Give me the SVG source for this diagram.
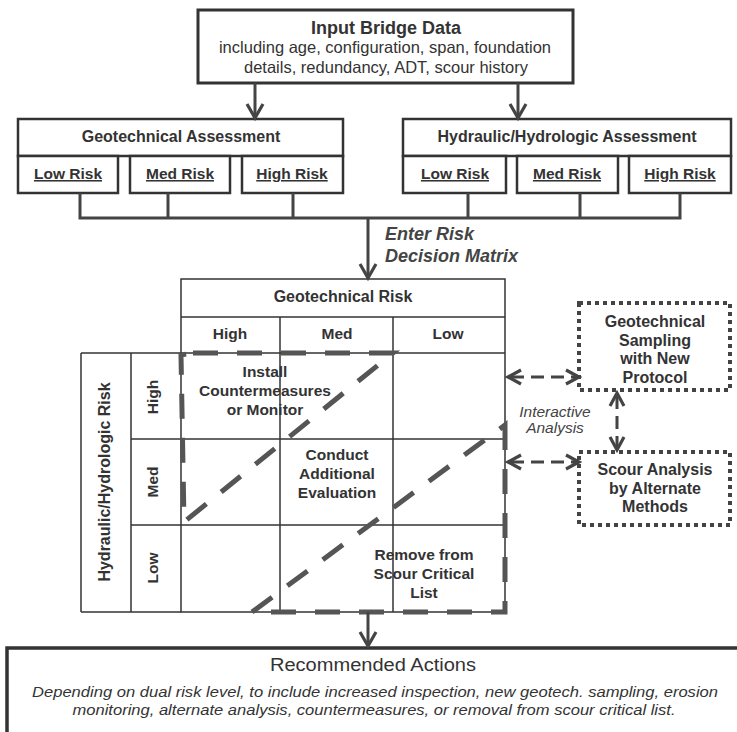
<svg xmlns="http://www.w3.org/2000/svg" width="737" height="732" viewBox="0 0 737 732">
<style>
.box{fill:#fff;stroke:#333;stroke-width:2.5}
.grid{fill:none;stroke:#333;stroke-width:1.5}
.t{font-family:"Liberation Sans",Arial,sans-serif;fill:#333;text-anchor:middle}
.b{font-weight:bold}
.u{text-decoration:underline}
.i{font-style:italic}
.conn{fill:none;stroke:#444;stroke-width:3}
.head{fill:none;stroke:#444;stroke-width:3.2;stroke-linejoin:miter}
.dash{fill:none;stroke:#555;stroke-width:5;stroke-dasharray:25 19}
.dot{fill:#fff;stroke:#444;stroke-width:4;stroke-dasharray:4 4}
.ia{fill:none;stroke:#444;stroke-width:3;stroke-dasharray:13 7}
</style>
<rect width="737" height="732" fill="#fff"/>

<g id="input-bridge-data">
<rect class="box" x="198" y="10" width="375" height="73" style="stroke-width:3"/>
<text class="t b" x="386" y="34" font-size="18">Input Bridge Data</text>
<text class="t" x="385" y="53" font-size="16.5">including age, configuration, span, foundation</text>
<text class="t" x="386" y="73" font-size="16.5">details, redundancy, ADT, scour history</text>
</g>

<g id="geotechnical-assessment">
<rect class="box" x="18" y="119" width="325" height="37"/>
<text class="t b" x="181" y="142" font-size="16">Geotechnical Assessment</text>
<rect class="box" x="18" y="156" width="100" height="37"/>
<text class="t b u" x="68" y="179" font-size="15.5">Low Risk</text>
<rect class="box" x="130" y="156" width="100" height="37"/>
<text class="t b u" x="180" y="179" font-size="15.5">Med Risk</text>
<rect class="box" x="242" y="156" width="101" height="37"/>
<text class="t b u" x="292" y="179" font-size="15.5">High Risk</text>
</g>

<g id="hydraulic-assessment">
<rect class="box" x="403" y="119" width="328" height="37"/>
<text class="t b" x="567" y="142" font-size="16">Hydraulic/Hydrologic Assessment</text>
<rect class="box" x="403" y="156" width="103" height="37"/>
<text class="t b u" x="455" y="179" font-size="15.5">Low Risk</text>
<rect class="box" x="517" y="156" width="101" height="37"/>
<text class="t b u" x="567" y="179" font-size="15.5">Med Risk</text>
<rect class="box" x="629" y="156" width="102" height="37"/>
<text class="t b u" x="680" y="179" font-size="15.5">High Risk</text>
</g>

<g id="risk-matrix">
<rect class="grid" x="181" y="279" width="324" height="333"/>
<line class="grid" x1="181" y1="317" x2="505" y2="317"/>
<line class="grid" x1="81" y1="353" x2="505" y2="353"/>
<line class="grid" x1="131" y1="439" x2="505" y2="439"/>
<line class="grid" x1="131" y1="525" x2="505" y2="525"/>
<line class="grid" x1="81" y1="612" x2="181" y2="612"/>
<line class="grid" x1="81" y1="353" x2="81" y2="612"/>
<line class="grid" x1="131" y1="353" x2="131" y2="612"/>
<line class="grid" x1="280" y1="317" x2="280" y2="612"/>
<line class="grid" x1="393" y1="317" x2="393" y2="612"/>
<text class="t b" x="343" y="302" font-size="16">Geotechnical Risk</text>
<text class="t b" x="230" y="339" font-size="15.5">High</text>
<text class="t b" x="337" y="339" font-size="15.5">Med</text>
<text class="t b" x="448" y="339" font-size="15.5">Low</text>
<text class="t b" font-size="16" transform="translate(110,482) rotate(-90)">Hydraulic/Hydrologic Risk</text>
<text class="t b" font-size="15.5" transform="translate(158,397) rotate(-90)">High</text>
<text class="t b" font-size="15.5" transform="translate(158,482) rotate(-90)">Med</text>
<text class="t b" font-size="15.5" transform="translate(158,568) rotate(-90)">Low</text>
<text class="t b" x="265" y="377" font-size="15.5">Install</text>
<text class="t b" x="265" y="396" font-size="15.5">Countermeasures</text>
<text class="t b" x="265" y="415" font-size="15.5">or Monitor</text>
<text class="t b" x="337" y="460" font-size="15.5">Conduct</text>
<text class="t b" x="337" y="479" font-size="15.5">Additional</text>
<text class="t b" x="337" y="498" font-size="15.5">Evaluation</text>
<text class="t b" x="424" y="560" font-size="15.5">Remove from</text>
<text class="t b" x="424" y="579" font-size="15.5">Scour Critical</text>
<text class="t b" x="424" y="598" font-size="15.5">List</text>
<path class="dash" d="M193,353 L393,353 L184,522 L181,355 Z" stroke-linejoin="miter"/>
<path class="dash" d="M505,425 L505,612 L252,612 Z" stroke-linejoin="miter"/>
</g>

<g id="geotechnical-sampling">
<rect class="dot" x="579" y="303" width="151" height="87"/>
<text class="t b" x="655" y="327" font-size="16">Geotechnical</text>
<text class="t b" x="655" y="346" font-size="16">Sampling</text>
<text class="t b" x="655" y="364" font-size="16">with New</text>
<text class="t b" x="655" y="383" font-size="16">Protocol</text>
</g>

<g id="scour-analysis">
<rect class="dot" x="579" y="452" width="151" height="73"/>
<text class="t b" x="655" y="475" font-size="16">Scour Analysis</text>
<text class="t b" x="655" y="494" font-size="16">by Alternate</text>
<text class="t b" x="655" y="512" font-size="16">Methods</text>
</g>

<g id="recommended-actions">
<path d="M7,760 L7,648 L745,648" fill="#fff" stroke="#333" stroke-width="3.5"/>
<text class="t" x="373" y="671" font-size="18" textLength="206" lengthAdjust="spacingAndGlyphs">Recommended Actions</text>
<text class="t i" x="375" y="697" font-size="15" textLength="686" lengthAdjust="spacingAndGlyphs">Depending on dual risk level, to include increased inspection, new geotech. sampling, erosion</text>
<text class="t i" x="374" y="715" font-size="15" textLength="603" lengthAdjust="spacingAndGlyphs">monitoring, alternate analysis, countermeasures, or removal from scour critical list.</text>
</g>

<g id="connectors">
<line class="conn" x1="255" y1="83" x2="255" y2="117"/>
<path class="head" d="M247,104 L255,118 L263,104"/>
<line class="conn" x1="518" y1="83" x2="518" y2="117"/>
<path class="head" d="M510,104 L518,118 L526,104"/>
<path class="conn" d="M80,193 V218 H680 V193 M168,193 V218 M293,193 V218 M468,193 V218 M580,193 V218"/>
<line class="conn" x1="368" y1="218" x2="368" y2="277"/>
<path class="head" d="M360,264 L368,278 L376,264"/>
<text class="t b i" x="385" y="240" font-size="18" style="text-anchor:start;fill:#444">Enter Risk</text>
<text class="t b i" x="385" y="262" font-size="18" style="text-anchor:start;fill:#444">Decision Matrix</text>
<line class="conn" x1="368" y1="612" x2="368" y2="645"/>
<path class="head" d="M360,632 L368,646 L376,632"/>
<line class="ia" x1="511" y1="377" x2="576" y2="377"/>
<path class="head" d="M521,370 L508,377 L521,384 M566,370 L579,377 L566,384"/>
<line class="ia" x1="511" y1="462" x2="576" y2="462"/>
<path class="head" d="M521,455 L508,462 L521,469 M566,455 L579,462 L566,469"/>
<line class="ia" x1="617" y1="396" x2="617" y2="447"/>
<path class="head" d="M610,406 L617,393 L624,406 M610,437 L617,450 L624,437"/>
<text class="t i" x="555" y="417" font-size="15.5" style="fill:#444">Interactive</text>
<text class="t i" x="555" y="433" font-size="15.5" style="fill:#444">Analysis</text>
</g>
</svg>
